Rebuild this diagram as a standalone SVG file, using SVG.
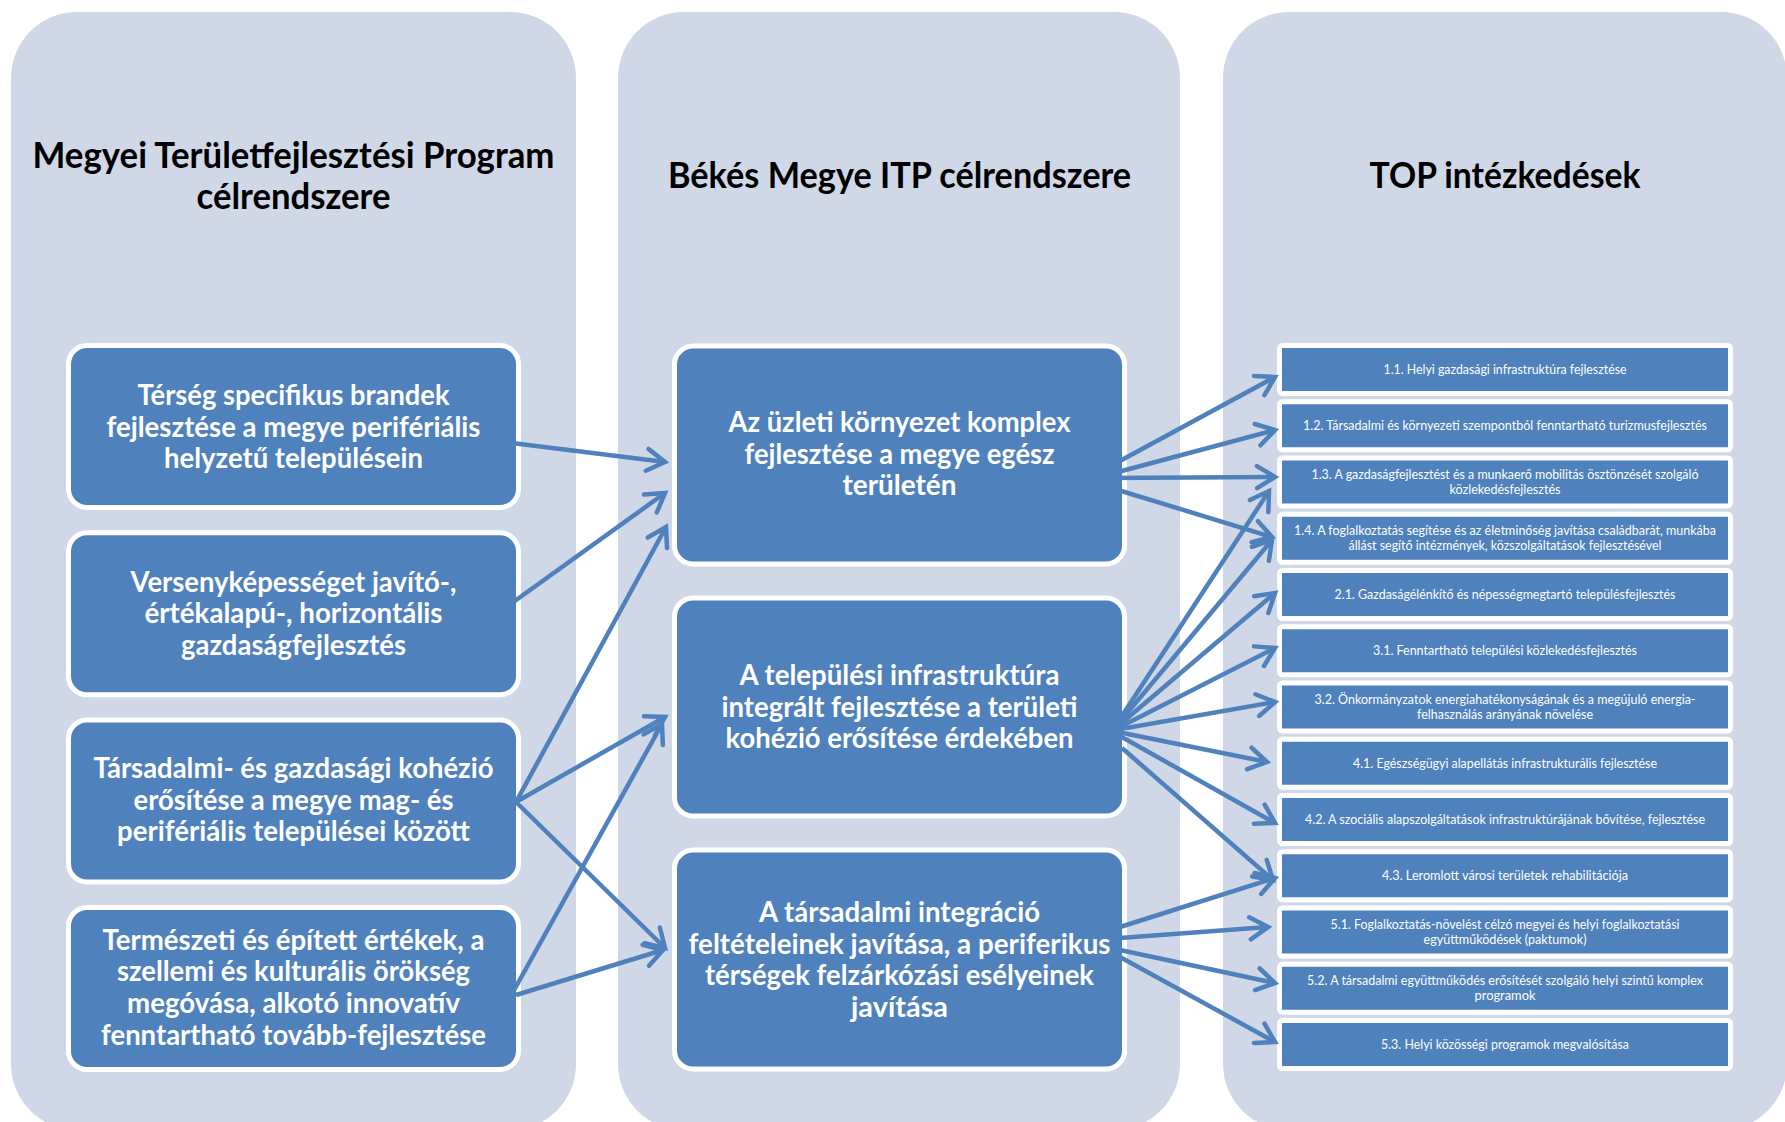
<svg xmlns="http://www.w3.org/2000/svg" width="1785" height="1122" viewBox="0 0 1785 1122">
<style>
.panel{fill:#D0D8E8}
.box{fill:#4F81BD;stroke:#FFFFFF;stroke-width:5}
.title{font-family:Lato,sans-serif;font-weight:700;font-size:36.7px;fill:#000;text-anchor:middle}
.big{font-family:Lato,sans-serif;font-weight:700;font-size:29.3px;fill:#FFFFFF;text-anchor:middle}
.small{font-family:Lato,sans-serif;font-weight:400;font-size:13.3px;fill:#FFFFFF;text-anchor:middle}
.conn line{stroke:#4F81BD;stroke-width:4.5;marker-end:url(#arr)}
</style>
<defs>
<marker id="arr" markerUnits="userSpaceOnUse" viewBox="0 0 24 24" markerWidth="24" markerHeight="24" refX="21" refY="12" orient="auto" overflow="visible">
<path d="M3,1 L21,12 L3,23" fill="none" stroke="#4F81BD" stroke-width="4.5" stroke-linecap="round"/>
</marker>
</defs>
<rect width="1785" height="1122" fill="#FFFFFF"/>
<g id="panels">
<rect class="panel" x="11" y="12" width="565" height="1118" rx="66"/>
<rect class="panel" x="618" y="12" width="562" height="1118" rx="66"/>
<rect class="panel" x="1223" y="12" width="564" height="1118" rx="66"/>
</g>
<g id="titles">
<text class="title" x="293.5" y="167.5" textLength="522" lengthAdjust="spacingAndGlyphs">Megyei Területfejlesztési Program</text>
<text class="title" x="293.5" y="208.5" textLength="194" lengthAdjust="spacingAndGlyphs">célrendszere</text>
<text class="title" x="899.5" y="188" textLength="463" lengthAdjust="spacingAndGlyphs">Békés Megye ITP célrendszere</text>
<text class="title" x="1505" y="188" textLength="271" lengthAdjust="spacingAndGlyphs">TOP intézkedések</text>
</g>
<g id="left-1">
<rect class="box" x="68.5" y="345.5" width="450" height="162" rx="18.5"/>
<text class="big" x="293.5" y="405" textLength="312" lengthAdjust="spacingAndGlyphs">Térség specifikus brandek</text>
<text class="big" x="293.5" y="436.5" textLength="374" lengthAdjust="spacingAndGlyphs">fejlesztése a megye perifériális</text>
<text class="big" x="293.5" y="468" textLength="259" lengthAdjust="spacingAndGlyphs">helyzetű településein</text>
</g>
<g id="left-2">
<rect class="box" x="68.5" y="532.8" width="450" height="162" rx="18.5"/>
<text class="big" x="293.5" y="591.5" textLength="326" lengthAdjust="spacingAndGlyphs">Versenyképességet javító-,</text>
<text class="big" x="293.5" y="623" textLength="298" lengthAdjust="spacingAndGlyphs">értékalapú-, horizontális</text>
<text class="big" x="293.5" y="654.5" textLength="225" lengthAdjust="spacingAndGlyphs">gazdaságfejlesztés</text>
</g>
<g id="left-3">
<rect class="box" x="68.5" y="720" width="450" height="162" rx="18.5"/>
<text class="big" x="293.5" y="778" textLength="400" lengthAdjust="spacingAndGlyphs">Társadalmi- és gazdasági kohézió</text>
<text class="big" x="293.5" y="809.5" textLength="320" lengthAdjust="spacingAndGlyphs">erősítése a megye mag- és</text>
<text class="big" x="293.5" y="841" textLength="353" lengthAdjust="spacingAndGlyphs">perifériális települései között</text>
</g>
<g id="left-4">
<rect class="box" x="68.5" y="907.5" width="450" height="162" rx="18.5"/>
<text class="big" x="293.5" y="949.5" textLength="382" lengthAdjust="spacingAndGlyphs">Természeti és épített értékek, a</text>
<text class="big" x="293.5" y="981" textLength="353" lengthAdjust="spacingAndGlyphs">szellemi és kulturális örökség</text>
<text class="big" x="293.5" y="1012.5" textLength="333" lengthAdjust="spacingAndGlyphs">megóvása, alkotó innovatív</text>
<text class="big" x="293.5" y="1044.5" textLength="385" lengthAdjust="spacingAndGlyphs">fenntartható tovább-fejlesztése</text>
</g>
<g id="mid-A">
<rect class="box" x="674.5" y="346" width="450" height="218" rx="18.5"/>
<text class="big" x="899.5" y="431.5" textLength="342" lengthAdjust="spacingAndGlyphs">Az üzleti környezet komplex</text>
<text class="big" x="899.5" y="463.5" textLength="310" lengthAdjust="spacingAndGlyphs">fejlesztése a megye egész</text>
<text class="big" x="899.5" y="495" textLength="114" lengthAdjust="spacingAndGlyphs">területén</text>
</g>
<g id="mid-B">
<rect class="box" x="674.5" y="598" width="450" height="218" rx="18.5"/>
<text class="big" x="899.5" y="685" textLength="320" lengthAdjust="spacingAndGlyphs">A települési infrastruktúra</text>
<text class="big" x="899.5" y="716.5" textLength="356" lengthAdjust="spacingAndGlyphs">integrált fejlesztése a területi</text>
<text class="big" x="899.5" y="748" textLength="348" lengthAdjust="spacingAndGlyphs">kohézió erősítése érdekében</text>
</g>
<g id="mid-C">
<rect class="box" x="674.5" y="850" width="450" height="219" rx="18.5"/>
<text class="big" x="899.5" y="922" textLength="281" lengthAdjust="spacingAndGlyphs">A társadalmi integráció</text>
<text class="big" x="899.5" y="953.7" textLength="422" lengthAdjust="spacingAndGlyphs">feltételeinek javítása, a periferikus</text>
<text class="big" x="899.5" y="985.4" textLength="389" lengthAdjust="spacingAndGlyphs">térségek felzárkózási esélyeinek</text>
<text class="big" x="899.5" y="1017" textLength="97" lengthAdjust="spacingAndGlyphs">javítása</text>
</g>
<g id="top-1-1">
<rect class="box" x="1279.5" y="345.5" width="451" height="48" rx="3"/>
<text class="small" x="1505" y="374" textLength="243" lengthAdjust="spacingAndGlyphs">1.1. Helyi gazdasági infrastruktúra fejlesztése</text>
</g>
<g id="top-1-2">
<rect class="box" x="1279.5" y="401.75" width="451" height="48" rx="3"/>
<text class="small" x="1505" y="430.3" textLength="404" lengthAdjust="spacingAndGlyphs">1.2. Társadalmi és környezeti szempontból fenntartható turizmusfejlesztés</text>
</g>
<g id="top-1-3">
<rect class="box" x="1279.5" y="458" width="451" height="48" rx="3"/>
<text class="small" x="1505" y="479" textLength="387" lengthAdjust="spacingAndGlyphs">1.3. A gazdaságfejlesztést és a munkaerő mobilitás ösztönzését szolgáló</text>
<text class="small" x="1505" y="494" textLength="111" lengthAdjust="spacingAndGlyphs">közlekedésfejlesztés</text>
</g>
<g id="top-1-4">
<rect class="box" x="1279.5" y="514.25" width="451" height="48" rx="3"/>
<text class="small" x="1505" y="535.3" textLength="422" lengthAdjust="spacingAndGlyphs">1.4. A foglalkoztatás segítése és az életminőség javítása családbarát, munkába</text>
<text class="small" x="1505" y="550.3" textLength="313" lengthAdjust="spacingAndGlyphs">állást segítő intézmények, közszolgáltatások fejlesztésével</text>
</g>
<g id="top-2-1">
<rect class="box" x="1279.5" y="570.5" width="451" height="48" rx="3"/>
<text class="small" x="1505" y="599" textLength="341" lengthAdjust="spacingAndGlyphs">2.1. Gazdaságélénkítő és népességmegtartó településfejlesztés</text>
</g>
<g id="top-3-1">
<rect class="box" x="1279.5" y="626.75" width="451" height="48" rx="3"/>
<text class="small" x="1505" y="655.3" textLength="264" lengthAdjust="spacingAndGlyphs">3.1. Fenntartható települési közlekedésfejlesztés</text>
</g>
<g id="top-3-2">
<rect class="box" x="1279.5" y="683" width="451" height="48" rx="3"/>
<text class="small" x="1505" y="704" textLength="381" lengthAdjust="spacingAndGlyphs">3.2. Önkormányzatok energiahatékonyságának és a megújuló energia-</text>
<text class="small" x="1505" y="719" textLength="176" lengthAdjust="spacingAndGlyphs">felhasználás arányának növelése</text>
</g>
<g id="top-4-1">
<rect class="box" x="1279.5" y="739.25" width="451" height="48" rx="3"/>
<text class="small" x="1505" y="767.8" textLength="304" lengthAdjust="spacingAndGlyphs">4.1. Egészségügyi alapellátás infrastrukturális fejlesztése</text>
</g>
<g id="top-4-2">
<rect class="box" x="1279.5" y="795.5" width="451" height="48" rx="3"/>
<text class="small" x="1505" y="824" textLength="400" lengthAdjust="spacingAndGlyphs">4.2. A szociális alapszolgáltatások infrastruktúrájának bővítése, fejlesztése</text>
</g>
<g id="top-4-3">
<rect class="box" x="1279.5" y="851.75" width="451" height="48" rx="3"/>
<text class="small" x="1505" y="880.3" textLength="246" lengthAdjust="spacingAndGlyphs">4.3. Leromlott városi területek rehabilitációja</text>
</g>
<g id="top-5-1">
<rect class="box" x="1279.5" y="908" width="451" height="48" rx="3"/>
<text class="small" x="1505" y="929" textLength="349" lengthAdjust="spacingAndGlyphs">5.1. Foglalkoztatás-növelést célzó megyei és helyi foglalkoztatási</text>
<text class="small" x="1505" y="944" textLength="163" lengthAdjust="spacingAndGlyphs">együttműködések (paktumok)</text>
</g>
<g id="top-5-2">
<rect class="box" x="1279.5" y="964.25" width="451" height="48" rx="3"/>
<text class="small" x="1505" y="985.3" textLength="396" lengthAdjust="spacingAndGlyphs">5.2. A társadalmi együttműködés erősítését szolgáló helyi szintű komplex</text>
<text class="small" x="1505" y="1000.3" textLength="61" lengthAdjust="spacingAndGlyphs">programok</text>
</g>
<g id="top-5-3">
<rect class="box" x="1279.5" y="1020.5" width="451" height="48" rx="3"/>
<text class="small" x="1505" y="1049" textLength="248" lengthAdjust="spacingAndGlyphs">5.3. Helyi közösségi programok megvalósítása</text>
</g>
<g id="connectors" class="conn">
<line x1="512" y1="443" x2="665" y2="462"/>
<line x1="512" y1="603" x2="665" y2="493"/>
<line x1="516" y1="802" x2="666" y2="527"/>
<line x1="516" y1="802" x2="665" y2="717"/>
<line x1="516" y1="802" x2="665" y2="948"/>
<line x1="513" y1="992" x2="662" y2="724"/>
<line x1="516" y1="995" x2="663" y2="950"/>
<line x1="1118" y1="462" x2="1275" y2="377"/>
<line x1="1118" y1="472" x2="1275" y2="430"/>
<line x1="1105" y1="478" x2="1275" y2="477"/>
<line x1="1118" y1="490" x2="1272" y2="537"/>
<line x1="1118" y1="722" x2="1269" y2="491"/>
<line x1="1118" y1="724" x2="1272" y2="540"/>
<line x1="1118" y1="726" x2="1275" y2="593"/>
<line x1="1118" y1="728" x2="1275" y2="648"/>
<line x1="1115" y1="730" x2="1275" y2="702"/>
<line x1="1118" y1="732" x2="1267" y2="762"/>
<line x1="1120" y1="736" x2="1275" y2="823"/>
<line x1="1122" y1="748" x2="1273" y2="880"/>
<line x1="1120" y1="927" x2="1275" y2="878"/>
<line x1="1120" y1="938" x2="1268" y2="927"/>
<line x1="1120" y1="950" x2="1275" y2="983"/>
<line x1="1120" y1="957" x2="1275" y2="1042"/>
</g>
</svg>
